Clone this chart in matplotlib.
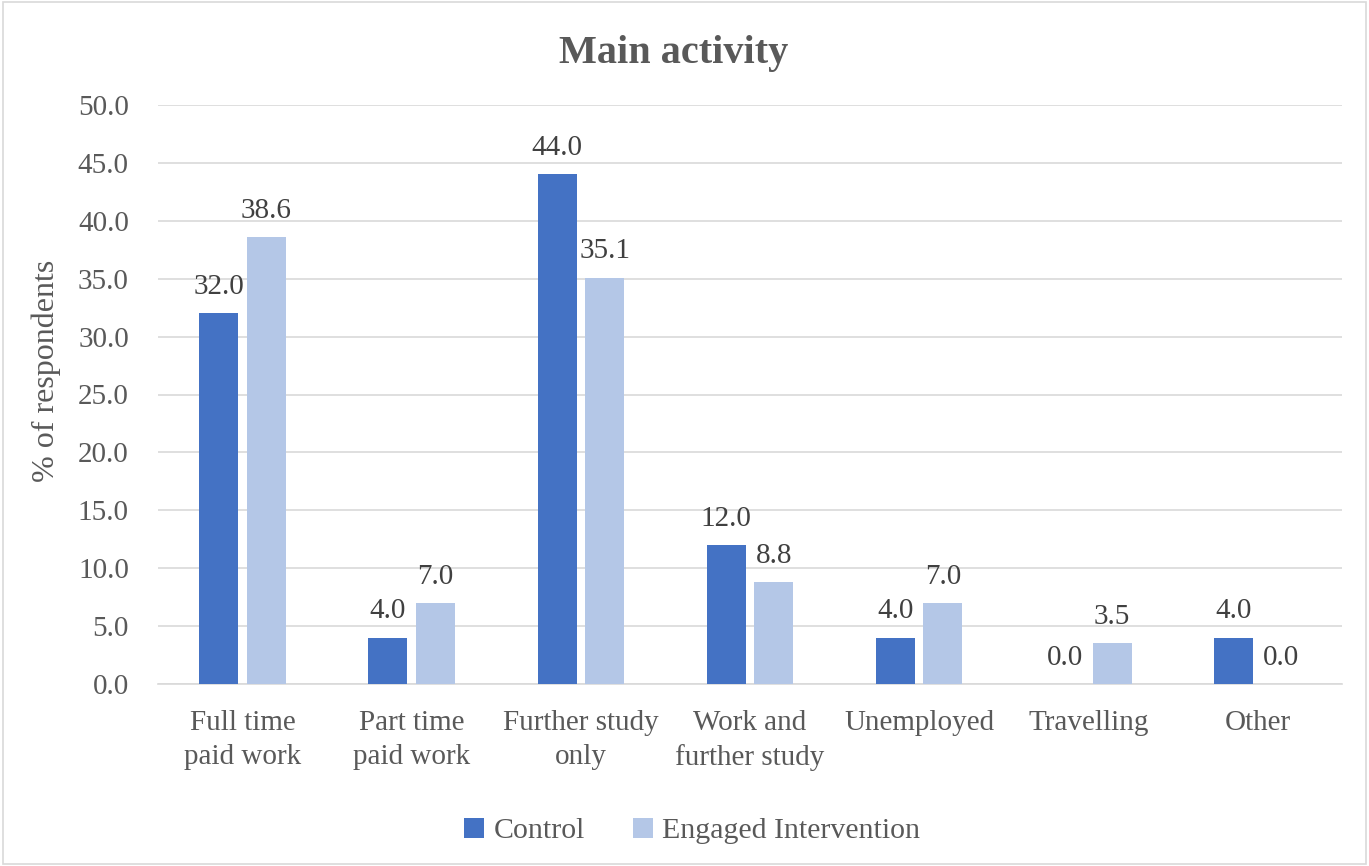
import matplotlib
matplotlib.use("Agg")
import matplotlib.pyplot as plt
from matplotlib.patches import Rectangle
import numpy as np

categories = ["Full time\npaid work", "Part time\npaid work", "Further study\nonly",
              "Work and\nfurther study", "Unemployed", "Travelling", "Other"]
control = [32.0, 4.0, 44.0, 12.0, 4.0, 0.0, 4.0]
engaged = [38.6, 7.0, 35.1, 8.8, 7.0, 3.5, 0.0]
series_names = ["Control", "Engaged Intervention"]
colors = ["#4472C4", "#B4C7E7"]
yticks = [0, 5, 10, 15, 20, 25, 30, 35, 40, 45, 50]

plt.rcParams['font.family'] = ['Liberation Serif', 'DejaVu Serif']
txt = "#595959"

fig = plt.figure(figsize=(13.69, 8.66), dpi=100)
fig.patches.append(Rectangle((0.002, 0.002), 0.996, 0.996, transform=fig.transFigure,
                             fill=False, edgecolor="#D9D9D9", linewidth=1.2))
ax = fig.add_axes([158/1369, 1-684/866, (1342-158)/1369, (684-105)/866])

x = np.arange(len(categories))
w = 0.231
gap = 0.05
b1 = ax.bar(x - (w+gap)/2, control, w, color=colors[0], label=series_names[0], zorder=3)
b2 = ax.bar(x + (w+gap)/2, engaged, w, color=colors[1], label=series_names[1], zorder=3)

for bars, vals in ((b1, control), (b2, engaged)):
    for r, v in zip(bars, vals):
        ax.text(r.get_x() + r.get_width()/2, v + 1.15, f"{v:.1f}", ha="center", va="bottom",
                fontsize=21, color="#404040")

ax.set_xlim(-0.5, len(categories) - 0.5)
ax.set_ylim(0, 50)
ax.set_yticks(yticks)
ax.set_yticklabels([f"{t:.1f}" for t in yticks], fontsize=21, color=txt)
ax.set_xticks(x)
ax.set_xticklabels(categories, fontsize=21, color=txt, linespacing=1.38)
ax.tick_params(axis="x", length=0, pad=19)
ax.tick_params(axis="y", length=0, pad=21)
ax.yaxis.grid(True, color="#D9D9D9", linewidth=1.2, zorder=0)
for s in ["top", "right", "left"]:
    ax.spines[s].set_visible(False)
ax.spines["bottom"].set_color("#D9D9D9")
ax.spines["bottom"].set_linewidth(1.2)

fig.text(46/1369, 1-371/866, "% of respondents", rotation=90, ha="center", va="center",
         fontsize=23, color=txt)

fig.text(673.5/1369, 1-53/866, "Main activity", ha="center", va="center", fontsize=29,
         fontweight="bold", color=txt)

leg = fig.legend(loc="center", bbox_to_anchor=(692/1369, 1-831/866), ncol=2, frameon=False,
                 fontsize=21.5, handlelength=0.7, handleheight=0.7, handletextpad=0.3,
                 columnspacing=1.6, labelcolor=txt)

fig.savefig("out.png", dpi=100)
